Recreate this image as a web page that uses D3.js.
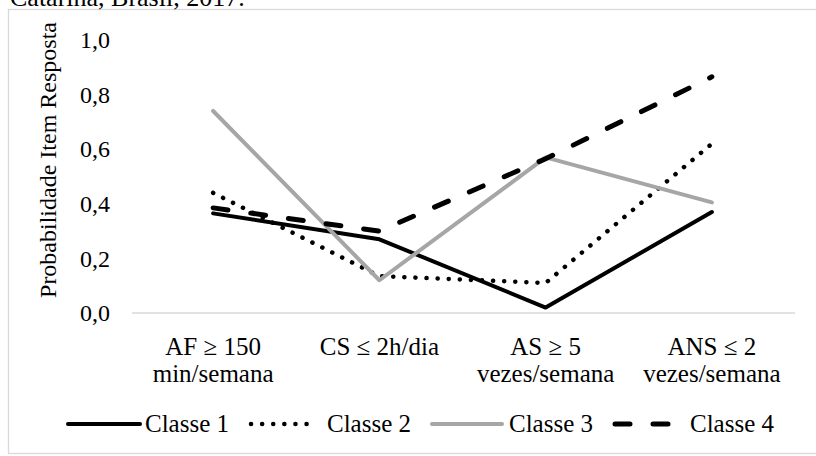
<!DOCTYPE html>
<html>
<head>
<meta charset="utf-8">
<script src="https://cdn.jsdelivr.net/npm/d3@7"></script>
<style>
  html, body { margin: 0; padding: 0; background: #fff; }
  svg { display: block; }
  text { font-family: "Liberation Serif", "Times New Roman", serif; fill: #000; }
</style>
</head>
<body>
<svg id="chart" width="816" height="456"></svg>
<script>
const categories = ["AF ≥ 150|min/semana", "CS ≤ 2h/dia", "AS ≥ 5|vezes/semana", "ANS ≤ 2|vezes/semana"];
const seriesNames = ["Classe 1", "Classe 2", "Classe 3", "Classe 4"];
const classe1 = [0.365, 0.27, 0.02, 0.37];
const classe2 = [0.44, 0.135, 0.11, 0.62];
const classe3 = [0.74, 0.12, 0.57, 0.405];
const classe4 = [0.385, 0.30, 0.565, 0.865];
const yTicks = [0, 0.2, 0.4, 0.6, 0.8, 1.0];
const titleText = "Catarina, Brasil, 2017.";
const yTitle = "Probabilidade Item Resposta";

const series = [
  { name: seriesNames[0], values: classe1, color: "#000", width: 4, dash: null, cap: "round" },
  { name: seriesNames[1], values: classe2, color: "#000", width: 4.5, dash: "0.1,11", cap: "round" },
  { name: seriesNames[2], values: classe3, color: "#a6a6a6", width: 4, dash: null, cap: "round" },
  { name: seriesNames[3], values: classe4, color: "#000", width: 5, dash: "15,23", cap: "round" }
];

const svg = d3.select("#chart");

// frame
svg.append("rect").attr("x", 8.5).attr("y", 9.5).attr("width", 820).attr("height", 444)
  .attr("fill", "none").attr("stroke", "#d9d9d9").attr("stroke-width", 1.3);

// cut-off title above frame
svg.append("text").attr("x", 10).attr("y", 6).attr("font-size", 26).text(titleText);

const x = d3.scalePoint().domain(categories).range([130, 795]).padding(0.5);
const y = d3.scaleLinear().domain([0, 1]).range([313, 40]);

// y tick labels
const yAxis = d3.axisLeft(y).tickValues(yTicks).tickSize(0).tickPadding(0)
  .tickFormat(d => d3.format(".1f")(d).replace(".", ","));
const gy = svg.append("g").attr("transform", "translate(110,0)").call(yAxis);
gy.select(".domain").remove();
gy.selectAll("text").attr("font-size", 24).attr("font-family", "Liberation Serif").attr("fill", "#000");

// y title
svg.append("text")
  .attr("transform", `translate(56,${160}) rotate(-90)`)
  .attr("text-anchor", "middle").attr("font-size", 24).text(yTitle);

// x baseline
svg.append("line").attr("x1", 132).attr("x2", 795).attr("y1", y(0)).attr("y2", y(0))
  .attr("stroke", "#d9d9d9").attr("stroke-width", 1.5);

// x category labels
const gx = svg.append("g");
categories.forEach(c => {
  const lines = c.split("|");
  const t = gx.append("text").attr("text-anchor", "middle").attr("font-size", 25);
  lines.forEach((ln, i) => {
    t.append("tspan").attr("x", x(c)).attr("y", 355 + i * 27).text(ln);
  });
});

// lines
const line = d3.line().x((d, i) => x(categories[i])).y(d => y(d));
series.forEach(s => {
  svg.append("path").datum(s.values).attr("d", line)
    .attr("fill", "none").attr("stroke", s.color).attr("stroke-width", s.width)
    .attr("stroke-linecap", s.cap).attr("stroke-linejoin", "round")
    .attr("stroke-dasharray", s.dash);
});

// legend
const legendY = 424;
const legendLayout = [
  { x0: 68, x1: 140, tx: 145 },
  { x0: 251, x1: 313, tx: 327 },
  { x0: 432, x1: 502, tx: 509 },
  { x0: 615, x1: 678, tx: 690 }
];
series.forEach((s, i) => {
  const L = legendLayout[i];
  svg.append("line").attr("x1", L.x0).attr("x2", L.x1).attr("y1", legendY).attr("y2", legendY)
    .attr("stroke", s.color).attr("stroke-width", s.width).attr("stroke-linecap", s.cap)
    .attr("stroke-dasharray", s.dash);
  svg.append("text").attr("x", L.tx).attr("y", legendY + 8).attr("font-size", 25).text(s.name);
});
</script>
</body>
</html>
